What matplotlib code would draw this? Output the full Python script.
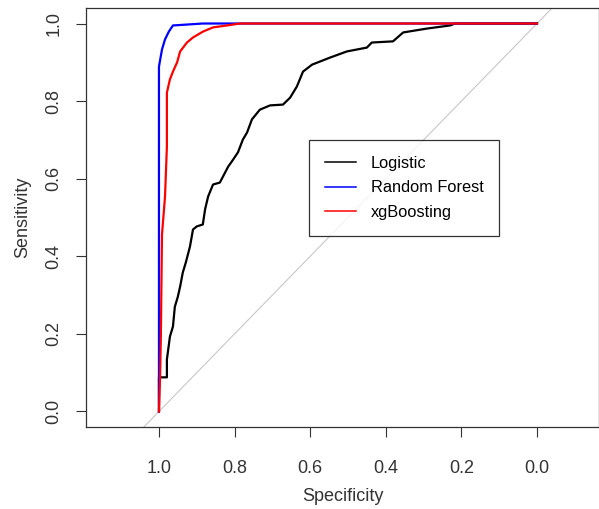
import matplotlib.pyplot as plt
from matplotlib.lines import Line2D

plt.rcParams['font.family'] = ['Liberation Sans', 'DejaVu Sans']

# ROC curves (specificity, sensitivity)
logit_spec = [1.0, 1.0, 0.979, 0.979, 0.971, 0.963, 0.958, 0.95, 0.944, 0.937,
              0.929, 0.918, 0.91, 0.9, 0.884, 0.878, 0.87, 0.857, 0.839, 0.825,
              0.817, 0.804, 0.791, 0.778, 0.767, 0.754, 0.733, 0.706, 0.672,
              0.653, 0.635, 0.619, 0.595, 0.548, 0.503, 0.45, 0.437, 0.381,
              0.354, 0.291, 0.23, 0.217, 0.0]
logit_sens = [0.0, 0.088, 0.088, 0.134, 0.193, 0.219, 0.27, 0.296, 0.322, 0.358,
              0.384, 0.425, 0.469, 0.477, 0.482, 0.521, 0.554, 0.585, 0.59, 0.616,
              0.631, 0.649, 0.668, 0.701, 0.719, 0.753, 0.778, 0.789, 0.791,
              0.809, 0.838, 0.876, 0.894, 0.912, 0.928, 0.938, 0.951, 0.954,
              0.977, 0.987, 0.995, 1.0, 1.0]

rf_spec = [1.0, 1.0, 0.992, 0.984, 0.974, 0.963, 0.884, 0.0]
rf_sens = [0.0, 0.889, 0.933, 0.959, 0.979, 0.995, 1.0, 1.0]

xgb_spec = [1.0, 0.997, 0.995, 0.992, 0.984, 0.979, 0.979, 0.971, 0.963, 0.952,
            0.944, 0.926, 0.91, 0.884, 0.857, 0.82, 0.786, 0.0]
xgb_sens = [0.0, 0.09, 0.193, 0.456, 0.554, 0.683, 0.822, 0.856, 0.876, 0.9,
            0.928, 0.951, 0.964, 0.979, 0.99, 0.995, 1.0, 1.0]

labels = ["Logistic", "Random Forest", "xgBoosting"]
colors = ["black", "blue", "red"]

fig = plt.figure(figsize=(5.99, 5.09), dpi=100)
ax = fig.add_axes([86 / 599, 1 - 427 / 509, 513 / 599, 419 / 509])

ax.axline((1, 0), (0, 1), color="#c8c8c8", lw=0.8, zorder=1)
ax.plot(logit_spec, logit_sens, color=colors[0], lw=1.6, zorder=2)
ax.plot(rf_spec, rf_sens, color=colors[1], lw=1.6, zorder=3)
ax.plot(xgb_spec, xgb_sens, color=colors[2], lw=1.6, zorder=4)

ax.set_xlim(1.193, -0.164)
ax.set_ylim(-0.04, 1.04)
ax.set_xticks([1.0, 0.8, 0.6, 0.4, 0.2, 0.0])
ax.set_yticks([0.0, 0.2, 0.4, 0.6, 0.8, 1.0])
ax.set_xticklabels(["1.0", "0.8", "0.6", "0.4", "0.2", "0.0"])
ax.set_yticklabels(["0.0", "0.2", "0.4", "0.6", "0.8", "1.0"])
ax.tick_params(axis='x', length=7, width=0.8, pad=17, labelsize=13, colors="#333333")
ax.tick_params(axis='y', length=7, width=0.8, pad=10, labelsize=13, colors="#333333",
               labelrotation=90)
for lab in ax.get_yticklabels():
    lab.set_va("center")
for s in ax.spines.values():
    s.set_linewidth(0.9)
    s.set_color("#333333")

ax.set_xlabel("Specificity", fontsize=13, color="#333333", labelpad=8)
ax.set_ylabel("Sensitivity", fontsize=13, color="#333333", labelpad=10)

handles = [Line2D([], [], color=c, lw=1.1) for c in colors]
leg = ax.legend(handles, labels, loc="upper left", bbox_to_anchor=(0.435, 0.685),
                fontsize=11.8, frameon=True, fancybox=False, edgecolor="black",
                handlelength=1.9, handletextpad=0.9, labelspacing=0.6,
                borderpad=0.95, borderaxespad=0)
leg.get_frame().set_linewidth(0.9)

fig.savefig("out.png", dpi=100)
